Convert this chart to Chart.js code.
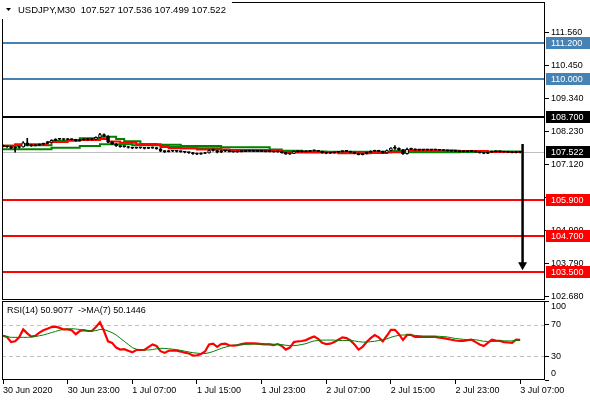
<!DOCTYPE html>
<html><head><meta charset="utf-8">
<script src="https://cdn.jsdelivr.net/npm/chart.js@4.4.1/dist/chart.umd.min.js"></script>
<style>
html,body{margin:0;padding:0;background:#fff;}
#wrap{position:relative;width:590px;height:400px;overflow:hidden;}
canvas{position:absolute;left:0;}
#c1{top:0;}
#c2{top:300px;}
</style></head><body>
<div id="wrap"><canvas id="c1" width="590" height="300"></canvas><canvas id="c2" width="590" height="100"></canvas></div>
<script>
const symbol = 'USDJPY,M30';
const opens = [107.74,107.72,107.70,107.66,107.68,107.70,107.84,107.76,107.74,107.76,107.79,107.82,107.86,107.92,107.96,107.96,107.95,107.96,107.95,107.91,
107.94,107.96,107.95,107.96,108.02,108.12,108.06,107.86,107.80,107.74,107.71,107.71,107.68,107.66,107.67,107.67,107.65,107.66,107.68,107.64,
107.56,107.54,107.56,107.56,107.55,107.54,107.52,107.51,107.47,107.46,107.48,107.50,107.58,107.58,107.52,107.56,107.56,107.54,107.53,107.54,
107.55,107.56,107.56,107.56,107.55,107.55,107.54,107.54,107.53,107.54,107.51,107.46,107.48,107.55,107.54,107.54,107.55,107.57,107.58,107.55,
107.50,107.49,107.50,107.52,107.54,107.56,107.55,107.52,107.48,107.44,107.47,107.52,107.56,107.58,107.55,107.50,107.58,107.66,107.65,107.60,
107.47,107.62,107.63,107.60,107.60,107.60,107.60,107.60,107.60,107.59,107.58,107.57,107.56,107.55,107.54,107.54,107.55,107.56,107.53,107.50,
107.48,107.52,107.55,107.54,107.54,107.53,107.52,107.51,107.527];
const highs = [107.76,107.73,107.71,107.70,107.72,107.88,107.99,107.78,107.78,107.80,107.83,107.88,107.94,107.98,107.99,107.98,107.98,107.97,107.96,107.96,
107.98,107.97,107.98,108.04,108.16,108.14,108.08,107.88,107.81,107.75,107.73,107.72,107.69,107.69,107.69,107.68,107.68,107.70,107.69,107.65,
107.58,107.58,107.58,107.57,107.56,107.55,107.53,107.52,107.49,107.50,107.52,107.60,107.63,107.59,107.58,107.58,107.57,107.55,107.56,107.57,
107.57,107.58,107.57,107.57,107.57,107.56,107.56,107.55,107.56,107.55,107.52,107.49,107.56,107.56,107.56,107.57,107.59,107.60,107.59,107.56,
107.51,107.51,107.53,107.55,107.57,107.57,107.56,107.53,107.49,107.48,107.53,107.57,107.59,107.59,107.56,107.60,107.68,107.75,107.67,107.62,
107.66,107.66,107.64,107.62,107.61,107.62,107.61,107.62,107.61,107.60,107.59,107.58,107.57,107.56,107.56,107.56,107.57,107.57,107.54,107.51,
107.53,107.56,107.56,107.55,107.55,107.54,107.53,107.54,107.536];
const lows = [107.70,107.68,107.64,107.52,107.66,107.69,107.74,107.72,107.73,107.75,107.78,107.81,107.85,107.91,107.94,107.93,107.94,107.93,107.89,107.90,
107.93,107.93,107.94,107.95,108.01,108.04,107.84,107.78,107.72,107.69,107.69,107.66,107.64,107.65,107.65,107.63,107.64,107.65,107.62,107.54,
107.51,107.53,107.54,107.53,107.52,107.50,107.48,107.45,107.44,107.45,107.47,107.49,107.56,107.50,107.51,107.54,107.53,107.52,107.52,107.53,
107.54,107.55,107.54,107.54,107.54,107.53,107.53,107.52,107.52,107.50,107.45,107.45,107.47,107.52,107.53,107.53,107.54,107.56,107.54,107.49,
107.47,107.48,107.49,107.51,107.53,107.54,107.51,107.47,107.43,107.43,107.46,107.51,107.55,107.54,107.49,107.49,107.57,107.62,107.58,107.45,
107.46,107.61,107.59,107.58,107.58,107.59,107.58,107.59,107.58,107.57,107.56,107.55,107.54,107.53,107.53,107.53,107.54,107.52,107.49,107.47,
107.47,107.51,107.53,107.52,107.52,107.51,107.50,107.50,107.499];
const closes = [107.72,107.70,107.66,107.68,107.70,107.84,107.76,107.74,107.76,107.79,107.82,107.86,107.92,107.96,107.96,107.95,107.96,107.95,107.91,107.94,
107.96,107.95,107.96,108.02,108.12,108.06,107.86,107.80,107.74,107.71,107.71,107.68,107.66,107.67,107.67,107.65,107.66,107.68,107.64,107.56,
107.54,107.56,107.56,107.55,107.54,107.52,107.51,107.47,107.46,107.48,107.50,107.58,107.58,107.52,107.56,107.56,107.54,107.53,107.54,107.55,
107.56,107.56,107.56,107.55,107.55,107.54,107.54,107.53,107.54,107.51,107.46,107.48,107.55,107.54,107.54,107.55,107.57,107.58,107.55,107.50,
107.49,107.50,107.52,107.54,107.56,107.55,107.52,107.48,107.44,107.47,107.52,107.56,107.58,107.55,107.50,107.58,107.66,107.65,107.60,107.47,
107.62,107.63,107.60,107.60,107.60,107.60,107.60,107.60,107.59,107.58,107.57,107.56,107.55,107.54,107.54,107.55,107.56,107.53,107.50,107.48,
107.52,107.55,107.54,107.54,107.53,107.52,107.51,107.53,107.522];
const rsiValues = [56,54.5,48,49,54,64,59,55,56,60,63,65,67,67.5,66,64,64,63,58,62,
63,62,62,67,73,62,49,47,41,38.5,39,37,35,38,38,38,41.6,45,43,36.5,
34.3,37,37.3,37,36,34.5,33.5,31,31,33,36,45,46,42,45.5,46,44,43.5,44,45.5,
46.3,46.3,46.3,46,45.5,45,45,44,45.5,43,38.5,41,48,49,49.4,50.5,53,55,52,47,
45.5,46,48,51,54,53,50,45,38.5,42,48,53,56.8,54,49,56,63.5,63.5,58,50.6,
57,57,54.5,54.5,54.5,54.5,54.5,54.5,53.5,53,52,51,50,49.4,49.5,50.5,51,48,45,43,
47,51,50,49.5,48,47.5,47,51,50.9077];
const rsiMA = [56,55,54,54,54,54,54,54.5,55,56,57,58.5,60,61.5,63,64,64.5,65,64.5,64,
63,62.5,62,62.5,64,64,62,60,57,53,49,45,41,39,38.5,38,38,38.5,39.5,40,
40,39.5,39,38.5,37.5,36.5,35.5,34.5,34,33.5,33.5,34.5,36,38,40,41.5,43,44,44.5,44.5,
45,45.3,45.5,45.5,45.5,45.5,45.5,45.3,45,44.8,44,43.5,43.5,44,45,46,48,49.5,50,50.5,
50.5,50.5,50.5,50,50,50,50,49.5,48.5,48,48,48.5,49,50,51,52,54,55.5,56.5,57,
57,57,56.5,56,55.5,55.5,55.5,55.5,55.3,55,54.5,53.5,52.5,52,51.5,51,51,51,50,49,
48.8,48.8,48.8,49.5,49.5,49.5,49.5,50,50.1446];
// moving averages drawn on the price chart: [bar index where the step starts, value]
const redMA = [[0,107.74],[3,107.79],[11,107.87],[16,107.93],[24,107.97],[26,107.88],[29,107.84],[33,107.79],[39,107.73],[41,107.66],
[48,107.61],[56,107.56],[69,107.51],[83,107.49],[91,107.50],[95,107.53],[99,107.58],[112,107.56],[120,107.53],[128,107.53]];
const greenMA = [[0,107.74],[4,107.76],[12,107.91],[19,107.99],[24,108.04],[28,107.97],[30,107.89],[34,107.80],[38,107.77],[44,107.73],
[54,107.69],[66,107.61],[69,107.57],[74,107.55],[80,107.54],[96,107.57],[113,107.55],[128,107.54]];
const greenSlowMA = [[0,107.62],[12,107.67],[19,107.73],[24,107.79],[32,107.76],[39,107.70],[44,107.66],[54,107.60],[66,107.56],[74,107.53],
[89,107.51],[96,107.52],[113,107.53],[128,107.53]];
const priceTicks = [102.68,103.79,104.90,106.01,107.12,108.23,109.34,110.45,111.56];
const timeTicks = ['30 Jun 2020','30 Jun 23:00','1 Jul 07:00','1 Jul 15:00','1 Jul 23:00','2 Jul 07:00','2 Jul 15:00','2 Jul 23:00','3 Jul 07:00'];
const barsPerTick = 16;
const levels = [111.2, 110.0, 108.7, 105.9, 104.7, 103.5];
const levelColors = ['#4682b4','#4682b4','#000000','#ff0000','#ff0000','#ff0000'];
const rsiTicks = [0,30,70,100];
const rsiLevels = [30,70];
const arrowBar = 128.6, arrowFrom = 107.80, arrowTo = 103.5;

const FONT = 'Liberation Sans';
Chart.defaults.font.family = FONT;
Chart.defaults.font.size = 9;
Chart.defaults.color = '#000';
const last = closes.length - 1;
const f3 = v => v.toFixed(3);
const titleText = symbol + '  ' + [opens[last], highs[last], lows[last], closes[last]].map(f3).join(' ');
const rsiTitle = 'RSI(14) ' + rsiValues[last].toFixed(4) + '  ->MA(7) ' + rsiMA[last].toFixed(4);
const XMIN = -0.25, XMAX = 134.15;
const noPad = s => { s.paddingTop = 0; s.paddingBottom = 0; s.paddingLeft = 0; s.paddingRight = 0; };

function frame(chart){
  const {ctx, chartArea:a} = chart;
  ctx.save(); ctx.strokeStyle = '#000'; ctx.lineWidth = 1;
  ctx.strokeRect(Math.round(a.left)+0.5, Math.round(a.top)+0.5, Math.round(a.right-a.left)-1, Math.round(a.bottom-a.top)-1);
  ctx.restore();
}

const wickData = lows.map((l,i)=>({x:i, y:[l, highs[i]]}));
const bodyData = opens.map((o,i)=>({x:i, y:[o, closes[i]]}));
const bodyColors = opens.map((o,i)=> closes[i]-o > 0.06 ? '#ffffff' : '#000000');
const stepData = arr => arr.map(p=>({x:p[0], y:p[1]}));

const mainPlugin = {
  id:'mainDeco',
  beforeDatasetsDraw(chart){
    const {ctx, chartArea:a, scales:{y}} = chart;
    const py = Math.round(y.getPixelForValue(closes[last]))+0.5;
    ctx.save(); ctx.strokeStyle='#c0c0c0'; ctx.lineWidth=1;
    ctx.beginPath(); ctx.moveTo(a.left, py); ctx.lineTo(a.right, py); ctx.stroke(); ctx.restore();
  },
  afterDatasetsDraw(chart){
    const {ctx, chartArea:a, scales:{x,y}} = chart;
    ctx.save();
    levels.forEach((lv,k)=>{
      const py = Math.round(y.getPixelForValue(lv));
      ctx.strokeStyle = levelColors[k]; ctx.lineWidth = 2;
      ctx.beginPath(); ctx.moveTo(a.left, py); ctx.lineTo(a.right, py); ctx.stroke();
    });
    const ax = x.getPixelForValue(arrowBar);
    const y0 = y.getPixelForValue(arrowFrom), y1 = y.getPixelForValue(arrowTo) - 1.5;
    ctx.strokeStyle = '#000'; ctx.lineWidth = 2.5;
    ctx.beginPath(); ctx.moveTo(ax, y0); ctx.lineTo(ax, y1-6); ctx.stroke();
    ctx.fillStyle = '#000';
    ctx.beginPath(); ctx.moveTo(ax-4.5, y1-8); ctx.lineTo(ax+4.5, y1-8); ctx.lineTo(ax, y1); ctx.closePath(); ctx.fill();
    ctx.restore();
  },
  afterDraw(chart){
    const {ctx, chartArea:a, scales:{y}} = chart;
    frame(chart);
    ctx.save();
    ctx.font = '9px "' + FONT + '"';
    ctx.textBaseline = 'middle';
    const boxes = levels.map((lv,k)=>[lv, levelColors[k]]).concat([[closes[last], '#000000']]);
    boxes.forEach(([v,c])=>{
      const py = Math.round(y.getPixelForValue(v));
      ctx.fillStyle = c; ctx.fillRect(a.right+1, py-6, 590-a.right-1, 12);
      ctx.fillStyle = '#fff'; ctx.fillText(f3(v), a.right+6, py+0.5);
    });
    // title with its white label background
    ctx.font = '9.5px "' + FONT + '"';
    const tw = ctx.measureText(titleText).width;
    ctx.fillStyle = '#fff'; ctx.fillRect(0, 0, 18 + tw + 6, 19);
    ctx.fillStyle = '#000';
    ctx.beginPath(); ctx.moveTo(6,8); ctx.lineTo(11,8); ctx.lineTo(8.5,11); ctx.closePath(); ctx.fill();
    ctx.textAlign = 'left';
    ctx.fillText(titleText, 18, 10);
    ctx.restore();
  }
};

new Chart(document.getElementById('c1'), {
  type:'bar',
  data:{datasets:[
    {type:'bar', data:bodyData, backgroundColor:bodyColors, borderColor:'#000', borderWidth:1, borderSkipped:false, barThickness:3, minBarLength:1, order:0},
    {type:'bar', data:wickData, backgroundColor:'#000', borderWidth:0, barThickness:1, minBarLength:1, order:1},
    {type:'line', data:stepData(redMA), borderColor:'#ff0000', borderWidth:2, stepped:true, pointRadius:0, order:2},
    {type:'line', data:stepData(greenMA), borderColor:'#008000', borderWidth:2, stepped:true, pointRadius:0, order:3},
    {type:'line', data:stepData(greenSlowMA), borderColor:'#008000', borderWidth:2, stepped:true, pointRadius:0, order:4}
  ]},
  options:{
    responsive:false, animation:false, events:[],
    layout:{padding:{left:2, top:2, right:0, bottom:0}, autoPadding:false},
    plugins:{legend:{display:false}, tooltip:{enabled:false}},
    datasets:{bar:{grouped:false}},
    scales:{
      x:{type:'linear', min:XMIN, max:XMAX, offset:false, display:false, afterFit:noPad},
      y:{position:'right', min:102.547, max:112.580,
        afterBuildTicks:s=>{ s.ticks = priceTicks.map(v=>({value:v})); },
        afterFit:s=>{ s.width = 45; noPad(s); },
        ticks:{callback:v=>f3(v), padding:2, autoSkip:false, color:'#000', font:{family:FONT, size:9}},
        grid:{drawOnChartArea:false, drawTicks:true, tickLength:4, color:'#000', tickColor:'#000'},
        border:{display:false}}
    }
  },
  plugins:[mainPlugin]
});

const rsiPlugin = {
  id:'rsiDeco',
  beforeDatasetsDraw(chart){
    const {ctx, chartArea:a, scales:{y}} = chart;
    ctx.save(); ctx.strokeStyle='#c0c0c0'; ctx.lineWidth=1; ctx.setLineDash([4,3]);
    rsiLevels.forEach(v=>{
      const py = Math.round(y.getPixelForValue(v))+0.5;
      ctx.beginPath(); ctx.moveTo(a.left, py); ctx.lineTo(a.right, py); ctx.stroke();
    });
    ctx.restore();
  },
  afterDraw(chart){
    const {ctx, chartArea:a, scales:{y}} = chart;
    frame(chart);
    ctx.save(); ctx.fillStyle='#000'; ctx.font='9px "' + FONT + '"'; ctx.textBaseline='middle'; ctx.textAlign='left';
    ctx.fillText(rsiTitle, 7, 11);
    ctx.fillText(String(rsiTicks[rsiTicks.length-1]), a.right+6, y.getPixelForValue(rsiTicks[rsiTicks.length-1])+6);
    ctx.fillText(String(rsiTicks[0]), a.right+6, y.getPixelForValue(rsiTicks[0])-6);
    ctx.restore();
  }
};

new Chart(document.getElementById('c2'), {
  type:'line',
  data:{datasets:[
    {data:rsiMA.map((v,i)=>({x:i,y:v})), borderColor:'#008000', borderWidth:1, pointRadius:0, tension:0, order:0},
    {data:rsiValues.map((v,i)=>({x:i,y:v})), borderColor:'#ff0000', borderWidth:2.2, pointRadius:0, tension:0, order:1}
  ]},
  options:{
    responsive:false, animation:false, events:[],
    layout:{padding:{left:2, top:1, right:0, bottom:0}, autoPadding:false},
    plugins:{legend:{display:false}, tooltip:{enabled:false}},
    scales:{
      x:{type:'linear', min:XMIN, max:XMAX, offset:false,
        afterBuildTicks:s=>{ s.ticks = timeTicks.map((t,k)=>({value:k*barsPerTick})); },
        afterFit:s=>{ s.height = 20; noPad(s); },
        ticks:{callback:(v,i)=>timeTicks[i], align:'start', maxRotation:0, autoSkip:false, padding:1, color:'#000', font:{family:FONT, size:9}},
        grid:{drawOnChartArea:false, drawTicks:true, tickLength:4, color:'#000', tickColor:'#000'},
        border:{display:false}},
      y:{position:'right', min:0, max:100,
        afterBuildTicks:s=>{ s.ticks = rsiTicks.map(v=>({value:v})); },
        afterFit:s=>{ s.width = 45; noPad(s); },
        ticks:{callback:v=> rsiLevels.includes(v) ? String(v) : '', padding:2, autoSkip:false, color:'#000', font:{family:FONT, size:9}},
        grid:{drawOnChartArea:false, drawTicks:true, tickLength:4, color:'#000', tickColor:'#000'},
        border:{display:false}}
    }
  },
  plugins:[rsiPlugin]
});
</script>
</body></html>
